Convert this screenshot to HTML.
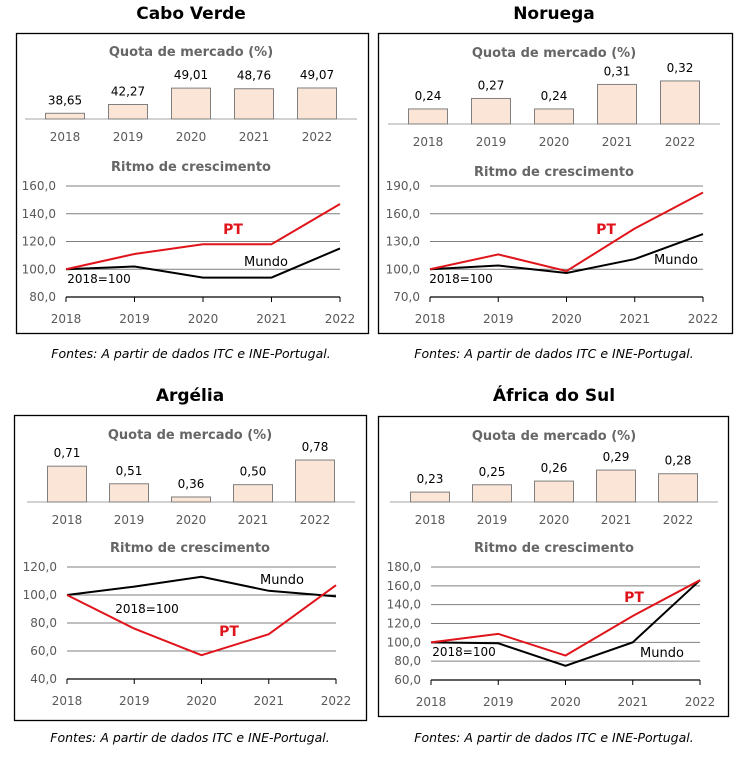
<!DOCTYPE html>
<html><head><meta charset="utf-8"><style>
body{margin:0;background:#fff;}
svg{display:block;font-family:"DejaVu Sans","Liberation Sans",sans-serif;}
</style></head><body>
<svg id="s" width="744" height="767"></svg>
<script>
const years=["2018","2019","2020","2021","2022"];
const cvQuota=[38.65,42.27,49.01,48.76,49.07];
const cvQuotaLbl=["38,65","42,27","49,01","48,76","49,07"];
const cvPT=[100,111,118,118,147];
const cvMundo=[100,102,94,94,115];
const cvTicks=[80,100,120,140,160];
const noQuota=[0.24,0.27,0.24,0.31,0.32];
const noQuotaLbl=["0,24","0,27","0,24","0,31","0,32"];
const noPT=[100,116,98,144,183];
const noMundo=[100,104,96,111,138];
const noTicks=[70,100,130,160,190];
const arQuota=[0.71,0.51,0.36,0.50,0.78];
const arQuotaLbl=["0,71","0,51","0,36","0,50","0,78"];
const arPT=[100,76,57,72,107];
const arMundo=[100,106,113,103,99];
const arTicks=[40,60,80,100,120];
const zaQuota=[0.23,0.25,0.26,0.29,0.28];
const zaQuotaLbl=["0,23","0,25","0,26","0,29","0,28"];
const zaPT=[100,109,86,128,166];
const zaMundo=[100,99,75,100,166];
const zaTicks=[60,80,100,120,140,160,180];

const S=document.getElementById('s');const NS='http://www.w3.org/2000/svg';
function E(t,a,txt,parent){const e=document.createElementNS(NS,t);for(const k in a)e.setAttribute(k,a[k]);if(txt!==undefined)e.textContent=txt;(parent||S).appendChild(e);return e;}
function fmt(v){return v.toFixed(1).replace('.',',');}

function panel(p){
  const g=E('g',{});
  
  
  let t=E('text',{x:p.cx,y:p.titleY,'text-anchor':'middle','font-size':17,'font-weight':'bold',fill:'#000'},p.title,g);
  
  let r=E('rect',{x:p.box[0]+0.5,y:p.box[1]+0.5,width:p.box[2],height:p.box[3],fill:'none',stroke:'#000','stroke-width':1.3},undefined,g);
  
  t=E('text',{x:p.cx,y:p.qTitleY,'text-anchor':'middle','font-size':13,'font-weight':'bold',fill:'#666'},'Quota de mercado  (%)',g);
  
  const bx=i=>p.bx0+i*p.bdx;
  const bh=v=>(v-p.bBase)*p.bScale;
  E('line',{x1:p.bx0-40,x2:bx(4)+40,y1:p.bBaseY,y2:p.bBaseY,stroke:'#a6a6a6'},undefined,g);
  p.quota.forEach((v,i)=>{
    const h=bh(v);
    const b=E('rect',{x:bx(i)-19.5,y:p.bBaseY-h,width:39,height:h,fill:'#fbe5d6',stroke:'#7f7f7f','stroke-width':1},undefined,g);
    
    const l=E('text',{x:bx(i),y:p.bBaseY-h-9,'text-anchor':'middle','font-size':12,fill:'#000'},p.qLbl[i],g);
    
    const y=E('text',{x:bx(i),y:p.bBaseY+22,'text-anchor':'middle','font-size':12,fill:'#595959'},years[i],g);
    
  });
  t=E('text',{x:p.cx,y:p.rTitleY,'text-anchor':'middle','font-size':13,'font-weight':'bold',fill:'#666'},'Ritmo de crescimento',g);
  
  const lx=i=>p.lx0+i*(p.lx1-p.lx0)/4;
  const tmin=p.ticks[0],tmax=p.ticks[p.ticks.length-1];
  const ly=v=>p.ly1+(v-tmin)/(tmax-tmin)*(p.ly0-p.ly1);
  p.ticks.forEach((tv,i)=>{
    if(i>0){const gl=E('line',{x1:lx(0),x2:lx(4),y1:ly(tv),y2:ly(tv),stroke:'#7f7f7f','stroke-width':1},undefined,g);
      }
    const tl=E('text',{x:lx(0)-10,y:ly(tv)+4,'text-anchor':'end','font-size':12,fill:'#595959'},fmt(tv),g);
    
  });
  const ax=E('line',{x1:lx(0),x2:lx(4),y1:ly(tmin),y2:ly(tmin),stroke:'#000','stroke-width':1.3},undefined,g);
  
  years.forEach((yv,i)=>{
    E('line',{x1:lx(i),x2:lx(i),y1:ly(tmin),y2:ly(tmin)+5,stroke:'#000'},undefined,g);
    const xl=E('text',{x:lx(i),y:ly(tmin)+26,'text-anchor':'middle','font-size':12,fill:'#595959'},yv,g);
    
  });
  const pl=E('polyline',{points:p.mundo.map((v,i)=>lx(i)+','+ly(v)).join(' '),fill:'none',stroke:'#000','stroke-width':2},undefined,g);
  
  const pp=E('polyline',{points:p.pt.map((v,i)=>lx(i)+','+ly(v)).join(' '),fill:'none',stroke:'#e0141b','stroke-width':2},undefined,g);
  
  t=E('text',{x:p.ptL[0],y:p.ptL[1],'text-anchor':'middle','font-size':14,'font-weight':'bold',fill:'#e0141b'},'PT',g);
  
  t=E('text',{x:p.mL[0],y:p.mL[1],'text-anchor':'middle','font-size':13,fill:'#000'},'Mundo',g);
  
  t=E('text',{x:p.bL[0],y:p.bL[1],'text-anchor':'middle','font-size':12,fill:'#000'},'2018=100',g);
  
  t=E('text',{x:p.cx,y:p.srcY,'text-anchor':'middle','font-size':12.5,'font-style':'italic',fill:'#000'},'Fontes: A partir de dados ITC e INE-Portugal.',g);
  
}
panel({id:'cabo-verde',title:'Cabo Verde',cx:191,titleY:19,box:[16,33,352,300],qTitleY:56,
  quota:cvQuota,qLbl:cvQuotaLbl,bx0:65,bdx:63,bBaseY:119,bBase:36.3,bScale:2.43,rTitleY:171,
  ticks:cvTicks,pt:cvPT,mundo:cvMundo,lx0:66,lx1:340,ly0:186,ly1:297,
  ptL:[233,234],mL:[266,266],bL:[99,283],srcY:358});
panel({id:'noruega',title:'Noruega',cx:554,titleY:19,box:[378,33,354,300],qTitleY:57,
  quota:noQuota,qLbl:noQuotaLbl,bx0:428,bdx:63,bBaseY:124,bBase:0.197,bScale:350,rTitleY:176,
  ticks:noTicks,pt:noPT,mundo:noMundo,lx0:430,lx1:703,ly0:186,ly1:297,
  ptL:[606,234],mL:[676,264],bL:[461,283],srcY:358});
panel({id:'argelia',title:'Argélia',cx:190,titleY:401,box:[14,415,352,305],qTitleY:439,
  quota:arQuota,qLbl:arQuotaLbl,bx0:67,bdx:62,bBaseY:502,bBase:0.303,bScale:88,rTitleY:552,
  ticks:arTicks,pt:arPT,mundo:arMundo,lx0:67,lx1:336,ly0:567,ly1:679,
  ptL:[229,636],mL:[282,584],bL:[147,613],srcY:742});
panel({id:'africa-do-sul',title:'África do Sul',cx:554,titleY:401,box:[378,416,350,300],qTitleY:440,
  quota:zaQuota,qLbl:zaQuotaLbl,bx0:430,bdx:62,bBaseY:502,bBase:0.203,bScale:367,rTitleY:552,
  ticks:zaTicks,pt:zaPT,mundo:zaMundo,lx0:431,lx1:700,ly0:567,ly1:680,
  ptL:[634,602],mL:[662,657],bL:[464,656],srcY:742});
</script>
</body></html>
